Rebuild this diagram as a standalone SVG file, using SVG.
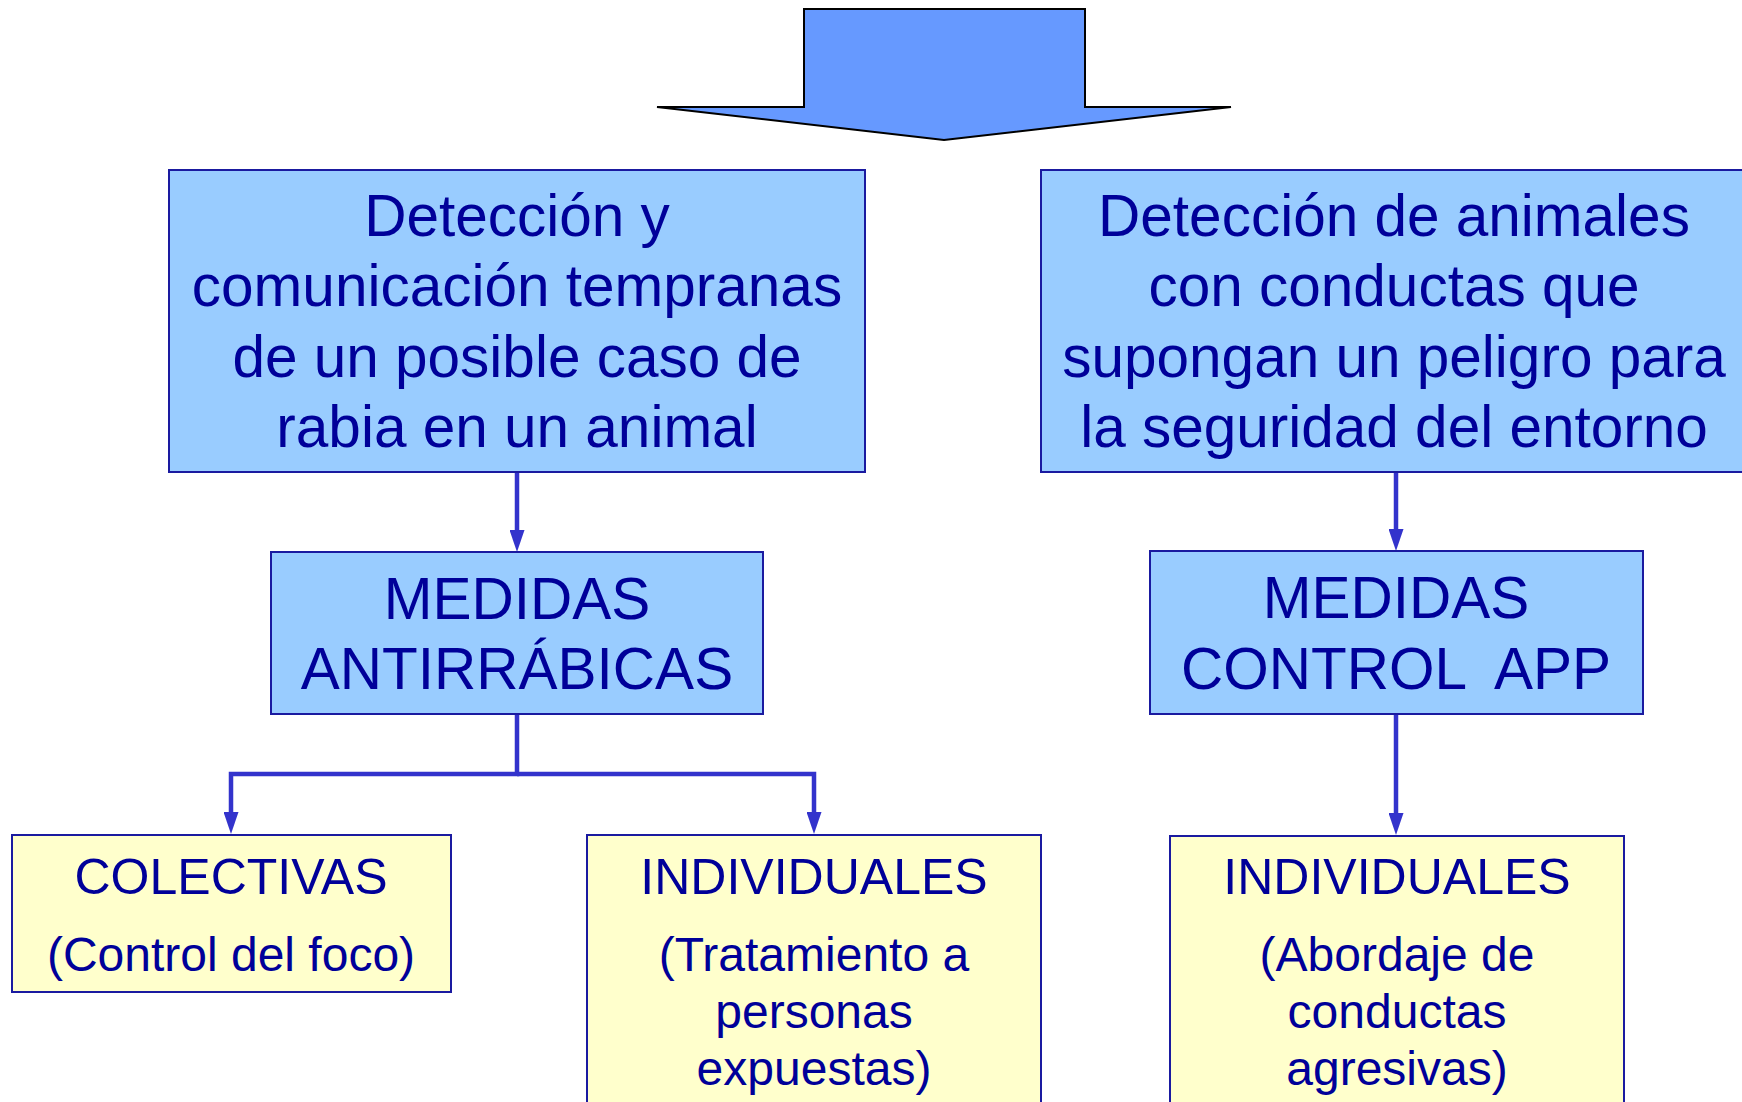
<svg xmlns="http://www.w3.org/2000/svg" width="1742" height="1102" viewBox="0 0 1742 1102">
<style>
text{font-family:"Liberation Sans",Arial,sans-serif;fill:#000099;text-anchor:middle}
.big{font-size:58.5px}
.small{font-size:50px}
.sub{font-size:48px}
.blue{fill:#99CCFF;stroke:#1a1aa0;stroke-width:2}
.yellow{fill:#FFFFCC;stroke:#1a1aa0;stroke-width:2}
.conn{fill:none;stroke:#3333CC;stroke-width:4.5}
</style>
<defs>
<marker id="ah" markerUnits="userSpaceOnUse" viewBox="0 0 22 15" markerWidth="22" markerHeight="15" refX="12" refY="7.5" orient="auto">
<path d="M0,0 L22,7.5 L0,15 z" fill="#3333CC"/>
</marker>
</defs>
<rect width="1742" height="1102" fill="#ffffff"/>
<g id="top-arrow">
<polygon points="804,9 1085,9 1085,107 1231,107 944,140 657,107 804,107" fill="#6699FF" stroke="#000000" stroke-width="2"/>
</g>
<g id="connectors">
<path class="conn" d="M517,472 V542" marker-end="url(#ah)"/>
<path class="conn" d="M517,714 V774 H231 V824" marker-end="url(#ah)"/>
<path class="conn" d="M517,774 H814 V824" marker-end="url(#ah)"/>
<path class="conn" d="M1396,472 V541" marker-end="url(#ah)"/>
<path class="conn" d="M1396,714 V825" marker-end="url(#ah)"/>
</g>
<g id="node-deteccion-rabia">
<rect class="blue" x="169" y="170" width="696" height="302"/>
<text class="big" x="517" y="236">Detección y</text>
<text class="big" x="517" y="306">comunicación tempranas</text>
<text class="big" x="517" y="377">de un posible caso de</text>
<text class="big" x="517" y="447">rabia en un animal</text>
</g>
<g id="node-deteccion-peligro">
<rect class="blue" x="1041" y="170" width="708" height="302"/>
<text class="big" x="1394" y="236">Detección de animales</text>
<text class="big" x="1394" y="306">con conductas que</text>
<text class="big" x="1394" y="377">supongan un peligro para</text>
<text class="big" x="1394" y="447">la seguridad del entorno</text>
</g>
<g id="node-medidas-antirrabicas">
<rect class="blue" x="271" y="552" width="492" height="162"/>
<text class="big" x="517" y="619">MEDIDAS</text>
<text class="big" x="517" y="689">ANTIRRÁBICAS</text>
</g>
<g id="node-medidas-control">
<rect class="blue" x="1150" y="551" width="493" height="163"/>
<text class="big" x="1396" y="618">MEDIDAS</text>
<text class="big" x="1396" y="689" xml:space="preserve">CONTROL  APP</text>
</g>
<g id="node-colectivas">
<rect class="yellow" x="12" y="835" width="439" height="157"/>
<text class="small" x="231" y="894">COLECTIVAS</text>
<text class="sub" x="231" y="971">(Control del foco)</text>
</g>
<g id="node-individuales-1">
<rect class="yellow" x="587" y="835" width="454" height="280"/>
<text class="small" x="814" y="894">INDIVIDUALES</text>
<text class="sub" x="814" y="971">(Tratamiento a</text>
<text class="sub" x="814" y="1028">personas</text>
<text class="sub" x="814" y="1085">expuestas)</text>
</g>
<g id="node-individuales-2">
<rect class="yellow" x="1170" y="836" width="454" height="280"/>
<text class="small" x="1397" y="894">INDIVIDUALES</text>
<text class="sub" x="1397" y="971">(Abordaje de</text>
<text class="sub" x="1397" y="1028">conductas</text>
<text class="sub" x="1397" y="1085">agresivas)</text>
</g>
</svg>
